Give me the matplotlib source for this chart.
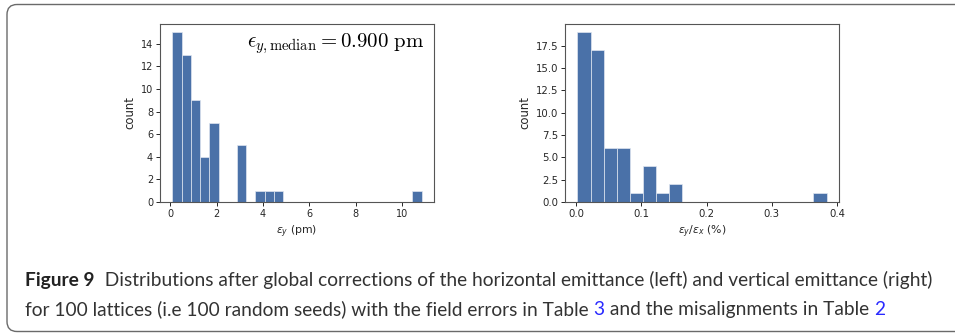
import numpy as np
import matplotlib
matplotlib.use("Agg")
import matplotlib.pyplot as plt
from matplotlib.patches import FancyBboxPatch

# Histogram counts per bin
ey_counts = [15, 13, 9, 4, 7, 0, 0, 5, 0, 1, 1, 1, 0, 0, 0, 0, 0, 0, 0, 0,
             0, 0, 0, 0, 0, 0, 1]
ey_range = (0.10, 10.83)          # pm
ratio_counts = [19, 17, 6, 6, 1, 4, 1, 2, 0, 0, 0, 0, 0, 0, 0, 0, 0, 0, 1]
ratio_range = (0.002, 0.384)      # %

ey_median = 0.900
left_yticks = [0, 2, 4, 6, 8, 10, 12, 14]
left_xticks = [0, 2, 4, 6, 8, 10]
right_yticks = [0.0, 2.5, 5.0, 7.5, 10.0, 12.5, 15.0, 17.5]
right_xticks = [0.0, 0.1, 0.2, 0.3, 0.4]

caption_line1 = [("Figure 9", "bold", "#222222"),
                 ("  Distributions after global corrections of the horizontal emittance (left) "
                  "and vertical emittance (right)", "normal", "#333333")]
caption_line2 = [("for 100 lattices (i.e 100 random seeds) with the field errors in Table ", "normal", "#333333"),
                 ("3", "normal", "#2a2aff"),
                 (" and the misalignments in Table ", "normal", "#333333"),
                 ("2", "normal", "#2a2aff")]

W, H = 955, 334
fig = plt.figure(figsize=(W / 100, H / 100), dpi=100)
fig.patch.set_facecolor("white")

bar_color = "#4a71a8"
spine_color = "#555555"

# Background layer in pixel coordinates for the caption frame
bg = fig.add_axes([0, 0, 1, 1], zorder=-10)
bg.set_xlim(0, W)
bg.set_ylim(H, 0)
bg.axis("off")
frame = FancyBboxPatch((7, 4.5), W + 50, 331.5 - 4.5,
                       boxstyle="round,pad=0,rounding_size=10",
                       facecolor="none", edgecolor="#6a6a6a", linewidth=1.0,
                       clip_on=False)
bg.add_patch(frame)


def px_axes(x0, y0, x1, y1):
    return fig.add_axes([x0 / W, 1 - y1 / H, (x1 - x0) / W, (y1 - y0) / H])


def style(ax, size):
    for s in ax.spines.values():
        s.set_color(spine_color)
        s.set_linewidth(0.8)
    ax.tick_params(labelsize=size, length=3, width=0.7, pad=2,
                   colors="#262626")


def draw_hist(ax, counts, rng):
    edges = np.linspace(rng[0], rng[1], len(counts) + 1)
    ax.hist(edges[:-1], bins=edges, weights=counts, color=bar_color,
            edgecolor="#dfe6f0", linewidth=0.5)


ax1 = px_axes(160, 24, 434, 202)
draw_hist(ax1, ey_counts, ey_range)
ax1.set_xticks(left_xticks)
ax1.set_yticks(left_yticks)
ax1.set_xlabel(r"$\epsilon_y$ (pm)", fontsize=7.8, color="#262626", labelpad=3)
ax1.set_ylabel("count", fontsize=8.4, color="#262626", labelpad=3)
style(ax1, 7.0)
ax1.text(0.965, 0.89,
         r"$\epsilon_{y,\mathrm{median}} = %.3f\ \mathrm{pm}$" % ey_median,
         transform=ax1.transAxes, ha="right", va="center", fontsize=15,
         math_fontfamily="cm")

ax2 = px_axes(565, 24, 839, 202)
draw_hist(ax2, ratio_counts, ratio_range)
ax2.set_xticks(right_xticks)
ax2.set_yticks(right_yticks)
ax2.set_xlabel(r"$\epsilon_y/\epsilon_x$ (%)", fontsize=7.8, color="#262626", labelpad=3)
ax2.set_ylabel("count", fontsize=8.4, color="#262626", labelpad=3)
style(ax2, 7.3)

# Caption text, laid out piece by piece
renderer = fig.canvas.get_renderer()
cap_font = "Lato"
cap_size = 13.8


def write_line(pieces, x_px, baseline_px):
    x = x_px
    for txt, weight, color in pieces:
        t = fig.text(x / W, 1 - baseline_px / H, txt, fontsize=cap_size,
                     family=cap_font, weight=weight, color=color,
                     ha="left", va="baseline")
        bb = t.get_window_extent(renderer=renderer)
        x += bb.width


write_line(caption_line1, 25, 286)
write_line(caption_line2, 25, 315)

fig.savefig("out.png", dpi=100, facecolor="white")
